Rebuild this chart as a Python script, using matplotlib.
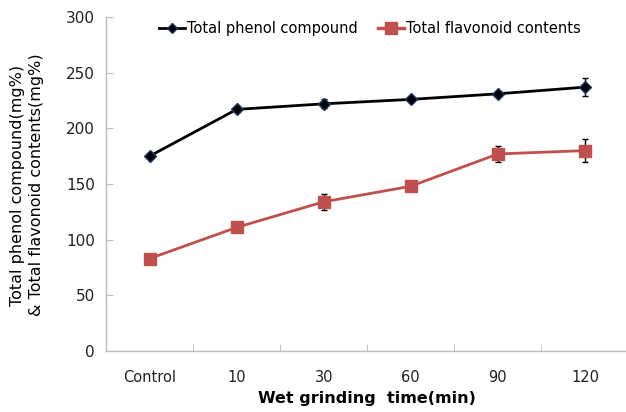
import matplotlib
matplotlib.use("Agg")
import matplotlib.pyplot as plt
from matplotlib.lines import Line2D
import numpy as np

categories = ["Control", "10", "30", "60", "90", "120"]
phenol = [175, 217, 222, 226, 231, 237]
phenol_err = [1.5, 2, 4, 2, 2, 8]
flavonoid = [83, 111, 134, 148, 177, 180]
flavonoid_err = [1.5, 2, 7, 2, 7, 10]
yticks = [0, 50, 100, 150, 200, 250, 300]

fig = plt.figure(figsize=(6.26, 4.12), dpi=100)
ax = fig.add_axes([106/626, 1-351/412, 1-106/626+0.004, (351-17)/412])

x = np.arange(len(categories))
ax.errorbar(x, phenol, yerr=phenol_err, color="black", lw=2, marker="D",
            markersize=6.5, markerfacecolor="black", markeredgecolor="#1F3864",
            ecolor="black", elinewidth=1, capsize=2.5, zorder=3)
ax.errorbar(x, flavonoid, yerr=flavonoid_err, color="#C0504D", lw=2, marker="s",
            markersize=9, markerfacecolor="#C0504D", markeredgecolor="#C0504D",
            ecolor="black", elinewidth=1, capsize=2.5, zorder=3)

ax.set_xlim(-0.5, len(categories) - 0.5)
ax.set_ylim(0, 300)
ax.set_yticks(yticks)
ax.set_xticks(x)
ax.set_xticklabels(categories)
ax.set_xticks(np.arange(-0.5, len(categories) - 0.4, 1), minor=True)
ax.tick_params(axis="x", which="major", length=0, pad=14, labelsize=10.5, colors="#222222")
ax.tick_params(axis="x", which="minor", direction="in", length=5, color="#BBBBBB")
ax.tick_params(axis="y", direction="in", length=5, color="#BBBBBB", labelsize=11,
               pad=8, labelcolor="#222222")
for s in ["top", "right"]:
    ax.spines[s].set_visible(False)
for s in ["left", "bottom"]:
    ax.spines[s].set_color("#BBBBBB")
    ax.spines[s].set_linewidth(1)

ax.set_xlabel("Wet grinding  time(min)", fontsize=11.5, fontweight="bold", labelpad=4)
fig.text(27/626, 1-185/412, "Total phenol compound(mg%)\n& Total flavonoid contents(mg%)",
         rotation=90, ha="center", va="center", fontsize=11.5, linespacing=1.35)

handles = [
    Line2D([], [], color="black", lw=2, marker="D", markersize=5,
           markerfacecolor="black", markeredgecolor="#1F3864"),
    Line2D([], [], color="#C0504D", lw=2.5, marker="s", markersize=8,
           markerfacecolor="#C0504D", markeredgecolor="#C0504D"),
]
ax.legend(handles, ["Total phenol compound", "Total flavonoid contents"],
          loc="upper center", bbox_to_anchor=(0.505, 1.01), ncol=2, frameon=False,
          fontsize=10.5, handlelength=1.8, handletextpad=0.1, columnspacing=1.4,
          borderaxespad=0.1)

fig.savefig("out.png", dpi=100)
